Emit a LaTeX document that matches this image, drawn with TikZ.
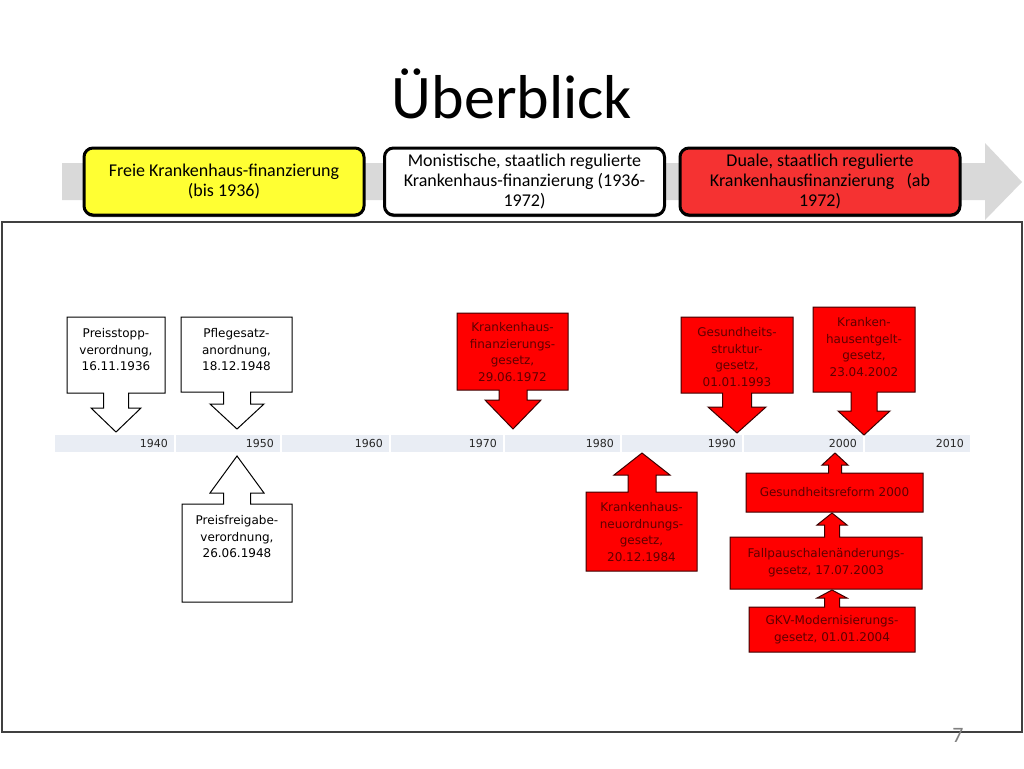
\documentclass[tikz,border=0pt]{standalone}
\usepackage{fontspec}
\setmainfont{Carlito}
\newfontfamily\callfont{DejaVu Sans}
\usetikzlibrary{shadows}
\definecolor{arrowgrey}{RGB}{217,217,217}
\definecolor{erayellow}{RGB}{255,255,51}
\definecolor{erared}{RGB}{245,50,50}
\definecolor{lawred}{RGB}{255,0,0}
\definecolor{lawline}{RGB}{60,0,0}
\definecolor{lawtext}{RGB}{95,0,0}
\definecolor{cellblue}{RGB}{233,237,244}
\definecolor{framegrey}{RGB}{64,64,64}
\tikzset{
  era/.style={draw=black,line width=3pt,rounded corners=9pt,
    minimum width=280pt,minimum height=67pt,align=center,inner sep=2pt,
    font=\fontsize{18}{20}\selectfont,
    drop shadow={shadow xshift=0pt,shadow yshift=-2pt,fill=black,opacity=0.6}},
  whitelaw/.style={draw=black,fill=white,line width=1pt},
  redlaw/.style={draw=lawline,fill=lawred,line width=1pt},
  lawtxt/.style={align=center,inner sep=0pt,font=\callfont\fontsize{12}{16.8}\selectfont},
  redtxt/.style={lawtxt,text=lawtext},
  yearcell/.style={fill=cellblue},
  yearlabel/.style={anchor=east,inner sep=0pt,text=black!85,font=\callfont\fontsize{11}{13}\selectfont}}
% box with an arrow: style, x1, x2, far edge, arrow edge, arrow x, head half width, head base, tip
\newcommand{\callshape}[9]{%
  \draw[#1] (#2,#4) -- (#3,#4) -- (#3,#5) -- ({#6+#7/2},#5) -- ({#6+#7/2},#8)
    -- ({#6+#7},#8) -- (#6,#9) -- ({#6-#7},#8) -- ({#6-#7/2},#8)
    -- ({#6-#7/2},#5) -- (#2,#5) -- cycle;}
\begin{document}
\begin{tikzpicture}[x=1pt,y=-1pt]
  \useasboundingbox[fill=white] (0,0) rectangle (1024,768);
  \node[font=\fontsize{62}{70}\selectfont,anchor=base] (title) at (512,118) {Überblick};
  % eras
  \fill[arrowgrey] (62,163) -- (985,163) -- (985,143) -- (1022,182) -- (985,220)
    -- (985,200) -- (62,200) -- cycle;
  \node[era,fill=erayellow] (free) at (224,181.5) {Freie Krankenhaus-finanzierung\\(bis 1936)};
  \node[era,fill=white] (mono) at (524.5,181.5) {Monistische, staatlich regulierte\\Krankenhaus-finanzierung (1936-\\1972)};
  \node[era,fill=erared] (dual) at (820,181.5) {Duale, staatlich regulierte\\Krankenhausfinanzierung~~~(ab\\1972)};
  \draw[framegrey,line width=1.5pt] (2,222) rectangle (1022,732);
  % timeline
  \foreach \yr/\xa/\xb in {1940/55/174,1950/176/280,1960/282/389,1970/391/503,
      1980/505/620,1990/622/742,2000/744/863,2010/865/970}{
    \fill[yearcell] (\xa,435) rectangle (\xb,452);
    \node[yearlabel] (y\yr) at ({\xb-6},443.5) {\yr};
  }
  % laws above
  \callshape{whitelaw}{67}{165}{317}{393}{116}{25}{408}{432}
  \node[lawtxt,anchor=north] (preisstopp) at (116,328) {Preisstopp-\\verordnung,\\16.11.1936};
  \callshape{whitelaw}{181}{292}{317}{392}{237}{27}{404}{429}
  \node[lawtxt,anchor=north] (pflegesatz) at (236.5,328) {Pflegesatz-\\anordnung,\\18.12.1948};
  \callshape{redlaw}{457}{568}{313}{390}{513}{28}{400}{429}
  \node[redtxt,anchor=north] (khg) at (512.5,322) {Krankenhaus-\\finanzierungs-\\gesetz,\\29.06.1972};
  \callshape{redlaw}{681}{793}{317}{393}{737}{29}{407}{433}
  \node[redtxt,anchor=north] (gsg) at (737,327) {Gesundheits-\\struktur-\\gesetz,\\01.01.1993};
  \callshape{redlaw}{813}{915}{307}{392}{864}{26}{411}{435}
  \node[redtxt,anchor=north] (khentgg) at (864,317) {Kranken-\\hausentgelt-\\gesetz,\\23.04.2002};
  % laws below
  \callshape{whitelaw}{182}{292}{602}{504}{237}{27}{493}{456}
  \node[lawtxt,anchor=north] (preisfreigabe) at (237,515) {Preisfreigabe-\\verordnung,\\26.06.1948};
  \callshape{redlaw}{586}{697}{571}{492}{642}{28}{475}{453}
  \node[redtxt,anchor=north] (khng) at (641.5,502) {Krankenhaus-\\neuordnungs-\\gesetz,\\20.12.1984};
  \callshape{redlaw}{746}{923}{512}{473}{835}{13}{465}{453}
  \node[redtxt] (reform) at (834.5,492.5) {Gesundheitsreform 2000};
  \callshape{redlaw}{730}{922}{589}{537}{832}{15}{525}{513}
  \node[redtxt] (fpaendg) at (826,563) {Fallpauschalenänderungs-\\gesetz, 17.07.2003};
  \callshape{redlaw}{749}{915}{652}{607}{832}{15}{598}{590}
  \node[redtxt] (gmg) at (832,629.5) {GKV-Modernisierungs-\\gesetz, 01.01.2004};
  \node[font=\fontsize{22}{24}\selectfont,text=gray] (pagenum) at (958,735) {7};
\end{tikzpicture}
\end{document}
